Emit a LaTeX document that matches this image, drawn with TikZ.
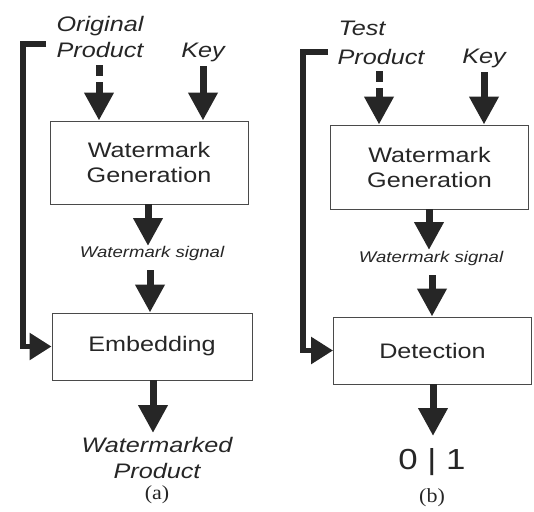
\documentclass[tikz,border=0pt]{standalone}
\usepackage{fontspec}
\usetikzlibrary{arrows.meta}
\newfontfamily\arialw[FakeStretch=1.2]{Liberation Sans}
\newfontfamily\timesw[FakeStretch=1.1]{Liberation Serif}
\definecolor{ink}{HTML}{262626}
\definecolor{boxline}{HTML}{4A4A4A}
\tikzset{
  blk/.style={draw=boxline, line width=0.9pt, minimum width=198pt, inner sep=0pt, align=center,
    font=\arialw\fontsize{21}{25}\selectfont, text=ink},
  lbl/.style={inner sep=0pt, align=center, font=\arialw\itshape\fontsize{21}{26}\selectfont, text=ink},
  sig/.style={inner sep=0pt, font=\arialw\itshape\fontsize{15.5}{18}\selectfont, text=ink},
  subcap/.style={inner sep=0pt, font=\timesw\fontsize{20}{22}\selectfont, text=ink},
  bigarr/.style={draw=ink, line width=7pt, -{Triangle[width=28pt,length=28pt]}},
  dasharr/.style={bigarr, dash pattern=on 11pt off 6pt},
  bracket/.style={draw=ink, line width=5.5pt, -{Triangle[width=26pt,length=22pt]}}
}
\begin{document}
\begin{tikzpicture}[x=1pt,y=-1pt]
\useasboundingbox (0,0) rectangle (534,511);

% ---------- panel (a) ----------
\node[lbl] (origA) at (100,37) {Original\\Product};
\node[lbl] (keyA) at (203,52) {Key};
\node[blk, minimum height=83pt] (wgA) at (149,162.5) {Watermark\\Generation};
\node[sig] (sigA) at (152,253) {Watermark signal};
\node[blk, minimum height=67pt, minimum width=200pt] (embA) at (152,346.5) {Embedding};
\node[lbl] (outA) at (157,458) {Watermarked\\Product};
\node[subcap] (capA) at (157,495) {(a)};

\coordinate (dsA) at (99,65);
\coordinate (ksA) at (203,66);
\coordinate (brA1) at (46,44);
\coordinate (brA2) at (23,44);

\draw[dasharr] (dsA) -- (dsA |- wgA.north);
\draw[bigarr] (ksA) -- (ksA |- wgA.north);
\draw[bigarr] (wgA.south -| 148,0) -- (148,246);
\draw[bigarr] (150,270) -- (150,0 |- embA.north);
\draw[bigarr] (embA.south -| 153,0) -- (153,433);
\draw[bracket] (brA1) -- (brA2) |- (embA.west);

% ---------- panel (b) ----------
\node[lbl] (testB) at (362,28) {Test};
\node[lbl] (prodB) at (381,57) {Product};
\node[lbl] (keyB) at (484,58) {Key};
\node[blk, minimum height=84pt] (wgB) at (429.5,167) {Watermark\\Generation};
\node[sig] (sigB) at (431,258) {Watermark signal};
\node[blk, minimum height=67pt] (detB) at (432.5,350.5) {Detection};
\node[inner sep=0pt, font=\arialw\fontsize{29}{30}\selectfont, text=ink] (outB) at (432,462) {0 | 1};
\node[subcap] (capB) at (432,498) {(b)};

\coordinate (dsB) at (379,71);
\coordinate (ksB) at (484,72);
\coordinate (brB1) at (328,52);
\coordinate (brB2) at (303,52);

\draw[dasharr] (dsB) -- (dsB |- wgB.north);
\draw[bigarr] (ksB) -- (ksB |- wgB.north);
\draw[bigarr] (wgB.south -| 429,0) -- (429,250);
\draw[bigarr] (432,275) -- (432,0 |- detB.north);
\draw[bigarr] (detB.south -| 433,0) -- (433,436);
\draw[bracket] (brB1) -- (brB2) |- (detB.west);
\end{tikzpicture}
\end{document}
